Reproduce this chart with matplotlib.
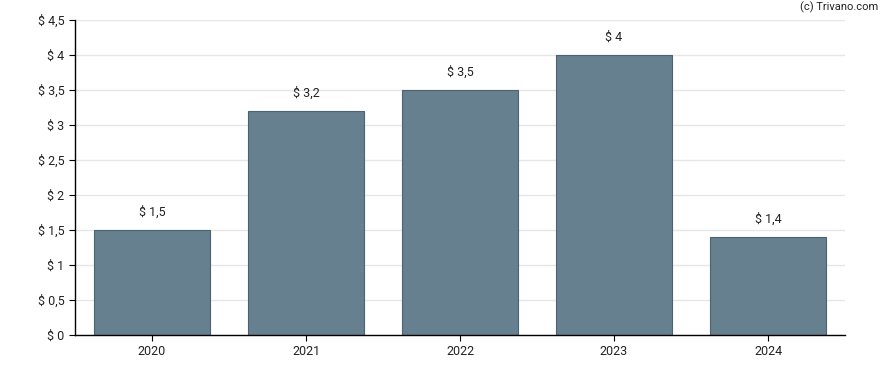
import matplotlib.pyplot as plt

years = ['2020', '2021', '2022', '2023', '2024']
values = [1.5, 3.2, 3.5, 4.0, 1.4]
yticks = [0, 0.5, 1, 1.5, 2, 2.5, 3, 3.5, 4, 4.5]


def fmt(v):
    s = f"{v:g}".replace('.', ',')
    return f"$ {s}"


def main():
    plt.rcParams['font.family'] = ['Roboto', 'DejaVu Sans']
    fig = plt.figure(figsize=(8.88, 3.7), dpi=100)
    ax = fig.add_axes([75 / 888, 1 - 335 / 370, 770 / 888, 315 / 370])

    x = range(len(years))
    ax.bar(x, values, width=0.75, color='#66808f', edgecolor='#4a6272', linewidth=0.8, zorder=2)

    for xi, v in zip(x, values):
        ax.annotate(fmt(v), (xi, v), xytext=(0, 8), textcoords='offset points',
                    ha='center', va='bottom', fontsize=9, color='#222222')

    ax.set_xlim(-0.5, 4.5)
    ax.set_ylim(0, 4.5)
    ax.set_xticks(list(x))
    ax.set_xticklabels(years)
    ax.set_yticks(yticks)
    ax.set_yticklabels([fmt(t) for t in yticks])
    ax.tick_params(labelsize=9, colors='#222222', length=4)
    ax.tick_params(axis='both', color='black')

    ax.grid(axis='y', color='#e6e6e6', linewidth=1, zorder=0)
    ax.set_axisbelow(True)
    for side in ['top', 'right']:
        ax.spines[side].set_visible(False)
    for side in ['left', 'bottom']:
        ax.spines[side].set_color('black')
        ax.spines[side].set_linewidth(1)

    fig.text(878 / 888, 1 - 7 / 370, '(c) Trivano.com', ha='right', va='center',
             fontsize=8, color='#222222')

    fig.savefig('out.png', dpi=100)


if __name__ == "__main__":
    main()
